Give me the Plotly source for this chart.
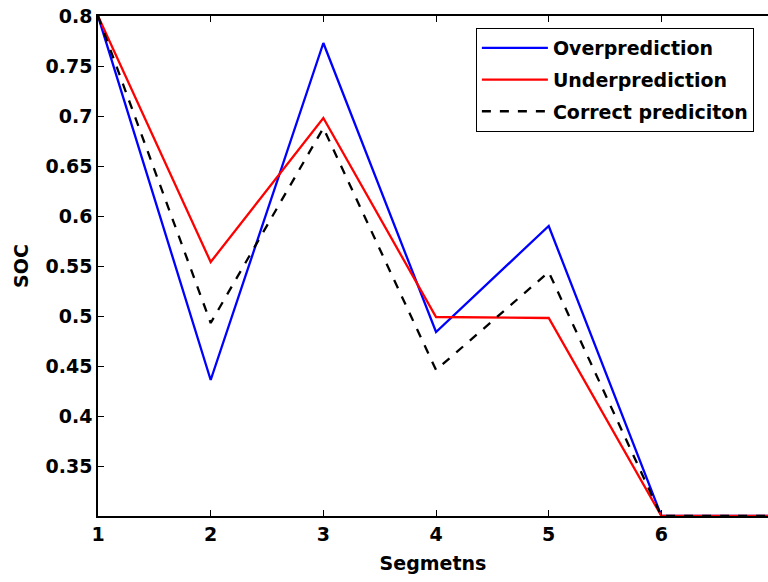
import plotly.graph_objects as go

segments = [1, 2, 3, 4, 5, 6, 7]
over_pred = [0.800, 0.436, 0.773, 0.484, 0.590, 0.300, 0.300]
under_pred = [0.800, 0.554, 0.698, 0.499, 0.498, 0.300, 0.300]
correct_pred = [0.800, 0.493, 0.688, 0.446, 0.544, 0.300, 0.300]

y_ticks = [0.3, 0.35, 0.4, 0.45, 0.5, 0.55, 0.6, 0.65, 0.7, 0.75, 0.8]
y_tick_text = ["", "0.35", "0.4", "0.45", "0.5", "0.55", "0.6", "0.65", "0.7", "0.75", "0.8"]
x_ticks = [1, 2, 3, 4, 5, 6, 7]

font = dict(family="DejaVu Sans, sans-serif", size=19, color="black", weight="bold")

fig = go.Figure()
fig.add_trace(go.Scatter(x=segments, y=over_pred, mode="lines", name="Overprediction",
                         legendgroup="a", line=dict(color="#0000ff", width=2.3)))
fig.add_trace(go.Scatter(x=segments, y=under_pred, mode="lines", name="Underprediction",
                         legendgroup="b", line=dict(color="#ff0000", width=2.3)))
fig.add_trace(go.Scatter(x=segments, y=correct_pred, mode="lines", name="Correct prediciton",
                         legendgroup="c", line=dict(color="black", width=2.3, dash="dash")))

fig.update_layout(
    width=768, height=582,
    margin=dict(l=98, r=0, t=16, b=66),
    paper_bgcolor="white", plot_bgcolor="white",
    font=font,
    showlegend=True,
    legend=dict(x=0.564, y=0.976, xanchor="left", yanchor="top",
                bgcolor="white", bordercolor="black", borderwidth=1,
                font=font, tracegroupgap=4, itemwidth=66),
)
fig.update_xaxes(range=[1, 6.946], tickvals=x_ticks, ticks="inside", ticklen=6,
                 tickcolor="black", showline=True, linecolor="black", linewidth=1.5,
                 mirror="ticks", showgrid=False, zeroline=False, tickfont=font,
                 title=dict(text="Segmetns", font=font, standoff=13))
fig.update_yaxes(range=[0.3, 0.8], tickvals=y_ticks, ticktext=y_tick_text, ticks="inside",
                 ticklen=6, tickcolor="black", showline=True, linecolor="black", linewidth=1.5,
                 showgrid=False, zeroline=False, tickfont=font,
                 title=dict(text="SOC", font=font, standoff=12))

fig.write_html("out.html")
